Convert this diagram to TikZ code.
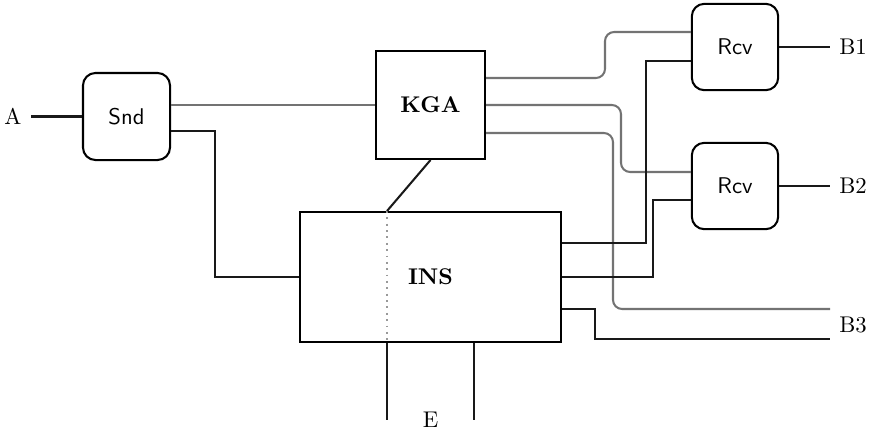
\documentclass[tikz,border=0pt]{standalone}
\begin{document}
\begin{tikzpicture}[x=0.44pt,y=-0.44pt,
  blk/.style={line width=0.9pt,black!90},
  gry/.style={line width=0.9pt,black!55,rounded corners=4pt},
  rbox/.style={draw,line width=0.9pt,rounded corners=5.5pt,minimum width=38pt,minimum height=38pt,font=\sffamily},
  sbox/.style={draw,line width=0.9pt,font=\bfseries},
  lbl/.style={inner sep=4pt}]
\useasboundingbox (0,0) rectangle (875,435);
% nodes
\node[rbox,minimum width=38.3pt,minimum height=38.3pt] (snd) at (126.5,116.5) {Snd};
\node[sbox,minimum width=48pt,minimum height=47.5pt] (kga) at (430.5,105) {KGA};
\node[sbox,minimum width=114.8pt,minimum height=57.2pt] (ins) at (430.5,277) {INS};
\node[rbox] (rcv1) at (735,47) {Rcv};
\node[rbox] (rcv2) at (735,186) {Rcv};
\node[lbl] (A) at (13,116.5) {A};
\node[lbl] (B1) at (853,47) {B1};
\node[lbl] (B2) at (853,186) {B2};
\node[lbl] (B3) at (853,325) {B3};
\node[lbl] (E) at (430.5,420) {E};
\coordinate (split) at (ins.north -| 387,0);
\coordinate (splitb) at (ins.south -| 387,0);
\coordinate (e2) at (ins.south -| 474,0);
% dotted divider
\draw[black!40,dotted,line width=0.8pt] (split) -- (splitb);
% connectors
\draw[blk] (A.east) -- (snd.west);
\draw[gry] (kga.west -| snd.east) -- (kga.west);
\draw[blk] (snd.east |- 0,131) -| (215,277) -- (ins.west);
\draw[blk] (kga.south) -- (split);
\draw[gry] (kga.east |- 0,78) -- (605,78) -- (605,32) -- (rcv1.west |- 0,32);
\draw[gry] (kga.east) -- (621,105) -- (621,172) -- (rcv2.west |- 0,172);
\draw[gry] (kga.east |- 0,133) -- (613,133) -- (613,309) -- (830,309);
\draw[blk] (ins.east |- 0,243) -- (646,243) -- (646,61) -- (rcv1.west |- 0,61);
\draw[blk] (ins.east) -- (653,277) -- (653,200) -- (rcv2.west |- 0,200);
\draw[blk] (ins.east |- 0,309) -- (595,309) -- (595,339) -- (830,339);
\draw[blk] (rcv1.east) -- (B1.west);
\draw[blk] (rcv2.east) -- (B2.west);
\draw[blk] (splitb) -- (387,420);
\draw[blk] (e2) -- (474,420);
\end{tikzpicture}
\end{document}
